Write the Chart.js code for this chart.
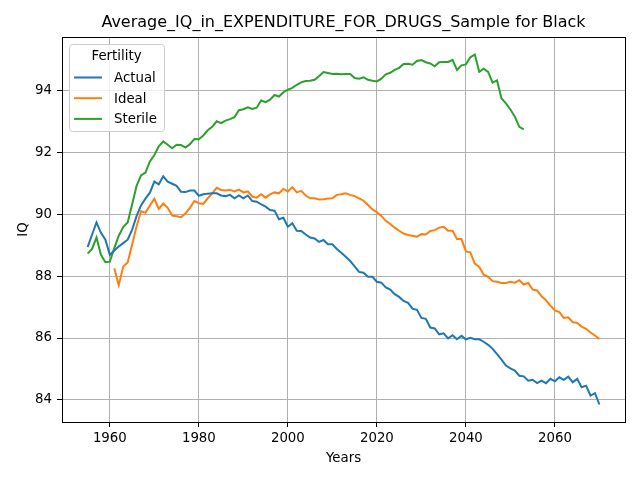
<!DOCTYPE html>
<html>
<head>
<meta charset="utf-8">
<script src="https://cdn.jsdelivr.net/npm/chart.js@4"></script>
<style>
  html, body { margin: 0; padding: 0; background: #fff; }
  canvas { display: block; }
</style>
</head>
<body>
<canvas id="chart" width="640" height="480"></canvas>
<script>
// ---- data ----
const firstYear = 1955;
const idealFirstYear = 1961;
const titleText = 'Average_IQ_in_EXPENDITURE_FOR_DRUGS_Sample for Black';
const xTicks = [1960, 1980, 2000, 2020, 2040, 2060];
const yTicks = [84, 86, 88, 90, 92, 94];
const seriesNames = ['Actual', 'Ideal', 'Sterile'];
const seriesColors = ['#1f77b4', '#ff7f0e', '#2ca02c'];

const actual = [
  88.94, 89.34, 89.74, 89.40, 89.18, 88.69, 88.83, 88.96, 89.07, 89.18,
  89.50, 89.94, 90.29, 90.51, 90.70, 91.06, 90.97, 91.23, 91.06, 90.99,
  90.92, 90.73, 90.72, 90.77, 90.77, 90.60, 90.65, 90.67, 90.68, 90.68,
  90.61, 90.59, 90.63, 90.52, 90.61, 90.52, 90.61, 90.43, 90.41, 90.32,
  90.25, 90.14, 90.12, 89.84, 89.89, 89.60, 89.71, 89.47, 89.46, 89.35,
  89.25, 89.22, 89.11, 89.17, 89.03, 89.03, 88.88, 88.76, 88.63, 88.49,
  88.32, 88.14, 88.11, 87.98, 87.98, 87.82, 87.79, 87.64, 87.57, 87.42,
  87.33, 87.20, 87.14, 86.95, 86.91, 86.65, 86.62, 86.34, 86.31, 86.12,
  86.15, 85.99, 86.09, 85.96, 86.07, 85.96, 86.01, 85.96, 85.96, 85.88,
  85.78, 85.65, 85.48, 85.30, 85.11, 85.02, 84.95, 84.78, 84.76, 84.62,
  84.65, 84.54, 84.62, 84.54, 84.68, 84.60, 84.73, 84.65, 84.75, 84.57,
  84.68, 84.41, 84.46, 84.14, 84.22, 83.85
];

const ideal = [
  88.26, 87.71, 88.31, 88.44, 89.02, 89.61, 90.10, 90.05, 90.29, 90.50,
  90.18, 90.35, 90.21, 89.96, 89.94, 89.91, 90.03, 90.21, 90.43, 90.36,
  90.34, 90.52, 90.68, 90.86, 90.79, 90.77, 90.79, 90.74, 90.80, 90.71,
  90.74, 90.57, 90.54, 90.65, 90.54, 90.65, 90.71, 90.68, 90.82, 90.74,
  90.88, 90.71, 90.76, 90.61, 90.52, 90.52, 90.48, 90.49, 90.51, 90.52,
  90.63, 90.65, 90.68, 90.63, 90.59, 90.52, 90.44, 90.30, 90.16, 90.07,
  89.95, 89.79, 89.69, 89.57, 89.47, 89.38, 89.33, 89.31, 89.28, 89.36,
  89.35, 89.46, 89.49, 89.57, 89.60, 89.47, 89.47, 89.20, 89.20, 88.80,
  88.77, 88.41, 88.30, 88.05, 87.98, 87.84, 87.82, 87.78, 87.78, 87.82,
  87.79, 87.87, 87.73, 87.78, 87.57, 87.54, 87.35, 87.22, 87.05, 86.89,
  86.84, 86.65, 86.67, 86.51, 86.49, 86.37, 86.30, 86.18, 86.08, 85.97
];

const sterile = [
  88.73, 88.88, 89.25, 88.69, 88.45, 88.47, 88.91, 89.31, 89.59, 89.74,
  90.32, 90.92, 91.26, 91.35, 91.71, 91.92, 92.20, 92.36, 92.25, 92.14,
  92.25, 92.24, 92.16, 92.27, 92.44, 92.43, 92.55, 92.72, 92.83, 93.01,
  92.95, 93.03, 93.08, 93.14, 93.37, 93.40, 93.46, 93.41, 93.45, 93.68,
  93.63, 93.71, 93.86, 93.81, 93.95, 94.03, 94.09, 94.19, 94.27, 94.31,
  94.32, 94.35, 94.47, 94.60, 94.57, 94.54, 94.55, 94.53, 94.54, 94.54,
  94.41, 94.39, 94.43, 94.35, 94.32, 94.30, 94.39, 94.53, 94.58, 94.67,
  94.74, 94.86, 94.87, 94.84, 94.96, 94.99, 94.92, 94.88, 94.79, 94.92,
  94.93, 94.93, 95.00, 94.67, 94.82, 94.85, 95.08, 95.17, 94.61, 94.71,
  94.61, 94.26, 94.33, 93.75, 93.59, 93.39, 93.16, 92.83, 92.75
];

// ---- helpers ----
const FONT = "'DejaVu Sans', sans-serif";

function toPoints(values, startYear) {
  return values.map((v, i) => ({ x: startYear + i, y: v }));
}

// matplotlib-like 5% margins
function paddedRange(lo, hi) {
  const m = (hi - lo) * 0.05;
  return [lo - m, hi + m];
}

const lastYear = firstYear + actual.length - 1;
const [xMin, xMax] = paddedRange(firstYear, lastYear);
const allVals = actual.concat(ideal, sterile);
const [yMin, yMax] = paddedRange(Math.min(...allVals), Math.max(...allVals));

// frame, title and legend box drawn on top
const decorPlugin = {
  id: 'decor',
  afterDraw(chart) {
    const ctx = chart.ctx;
    const a = chart.chartArea;
    ctx.save();
    // full box like matplotlib spines
    ctx.strokeStyle = '#000';
    ctx.lineWidth = 1;
    ctx.strokeRect(Math.round(a.left) + 0.5, Math.round(a.top) + 0.5,
      Math.round(a.right - a.left), Math.round(a.bottom - a.top));

    // title
    ctx.fillStyle = '#000';
    ctx.font = '16px ' + FONT;
    ctx.textAlign = 'center';
    ctx.textBaseline = 'middle';
    ctx.fillText(titleText, (a.left + a.right) / 2, 23);

    // legend
    const bx = a.left + 7, by = a.top + 7, bw = 95, bh = 87;
    ctx.beginPath();
    ctx.roundRect(bx + 0.5, by + 0.5, bw, bh, 3);
    ctx.fillStyle = 'rgba(255,255,255,0.8)';
    ctx.fill();
    ctx.strokeStyle = '#cccccc';
    ctx.stroke();
    ctx.fillStyle = '#000';
    ctx.font = '13.33px ' + FONT;
    ctx.textAlign = 'center';
    ctx.fillText('Fertility', bx + bw / 2, by + 12.5);
    ctx.textAlign = 'left';
    chart.data.datasets.forEach((ds, i) => {
      const ly = by + 33.5 + i * 20.7;
      ctx.strokeStyle = ds.borderColor;
      ctx.lineWidth = 2;
      ctx.beginPath();
      ctx.moveTo(bx + 5, ly);
      ctx.lineTo(bx + 33, ly);
      ctx.stroke();
      ctx.fillStyle = '#000';
      ctx.fillText(ds.label, bx + 45, ly + 1);
    });
    ctx.restore();
  }
};

const datasets = [
  toPoints(actual, firstYear),
  toPoints(ideal, idealFirstYear),
  toPoints(sterile, firstYear)
].map((pts, i) => ({
  label: seriesNames[i],
  data: pts,
  borderColor: seriesColors[i],
  backgroundColor: seriesColors[i],
  borderWidth: 2,
  pointRadius: 0,
  tension: 0,
  fill: false
}));

new Chart(document.getElementById('chart'), {
  type: 'line',
  data: { datasets },
  options: {
    responsive: false,
    animation: false,
    devicePixelRatio: 1,
    layout: { padding: { top: 37, right: 15, left: 0, bottom: 0 } },
    plugins: {
      legend: { display: false },
      title: { display: false },
      tooltip: { enabled: false }
    },
    scales: {
      x: {
        type: 'linear',
        min: xMin,
        max: xMax,
        afterBuildTicks: s => { s.ticks = xTicks.map(v => ({ value: v })); },
        afterFit: s => { s.height = 58; },
        ticks: {
          color: '#000',
          font: { family: FONT, size: 13.33 },
          padding: 4,
          maxRotation: 0,
          callback: v => String(v)
        },
        grid: { color: '#b0b0b0', lineWidth: 1, tickColor: '#000', tickLength: 5 },
        border: { color: '#000', width: 1 },
        title: {
          display: true, text: 'Years', color: '#000',
          font: { family: FONT, size: 13.33 },
          padding: { top: 0, bottom: 13 }
        }
      },
      y: {
        type: 'linear',
        min: yMin,
        max: yMax,
        afterBuildTicks: s => { s.ticks = yTicks.map(v => ({ value: v })); },
        afterFit: s => { s.width = 62; },
        ticks: {
          color: '#000',
          font: { family: FONT, size: 13.33 },
          padding: 5,
          callback: v => String(v)
        },
        grid: { color: '#b0b0b0', lineWidth: 1, tickColor: '#000', tickLength: 5 },
        border: { color: '#000', width: 1 },
        title: {
          display: true, text: 'IQ', color: '#000',
          font: { family: FONT, size: 13.33 },
          padding: { top: 16, bottom: 0 }
        }
      }
    }
  },
  plugins: [decorPlugin]
});
</script>
</body>
</html>
